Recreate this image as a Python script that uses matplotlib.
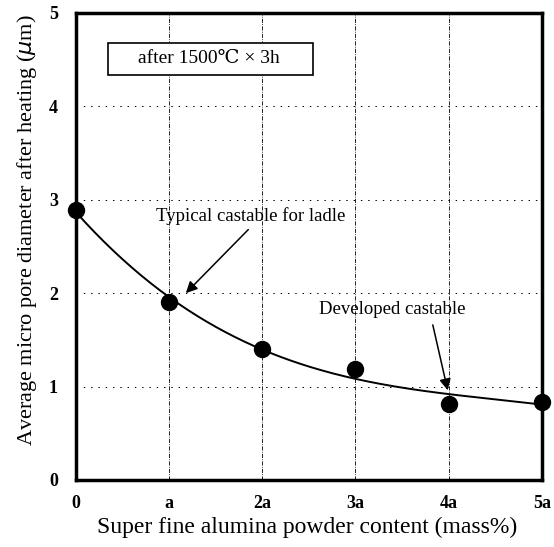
import numpy as np
import matplotlib.pyplot as plt
from matplotlib.patches import Rectangle

# data
x_labels = ['0', 'a', '2a', '3a', '4a', '5a']
content = [0, 1, 2, 3, 4, 5]
pore_diameter = [2.89, 1.90, 1.40, 1.19, 0.81, 0.84]
y_ticks = [0, 1, 2, 3, 4, 5]

plt.rcParams['font.family'] = ['Liberation Serif', 'DejaVu Serif']

fig = plt.figure(figsize=(5.54, 5.47), dpi=100)
ax = fig.add_axes([0.137, 0.1225, 0.841, 0.854])

# vertical and horizontal guide lines
for xv in content[1:-1]:
    ax.axvline(xv, color='k', lw=0.6, ls=(0, (5, 1.5, 1, 1.5)), zorder=1)
for yv in y_ticks[1:-1]:
    ax.axhline(yv, color='k', lw=0.7, ls=(0, (1.5, 6)), zorder=1)

# trend curve
coef = np.polyfit(content, pore_diameter, 3)
xs = np.linspace(0, 5, 200)
ax.plot(xs, np.polyval(coef, xs), color='k', lw=1.4, zorder=2)

ax.plot(content, pore_diameter, 'o', color='k', ms=11.5, clip_on=False, zorder=3)

ax.set_xlim(0, 5)
ax.set_ylim(0, 5)
ax.set_xticks(content)
ax.set_xticklabels(x_labels, fontweight='bold', fontsize=13)
ax.set_yticks(y_ticks)
ax.set_yticklabels([str(v) for v in y_ticks], fontweight='bold', fontsize=13)
ax.tick_params(length=0)
ax.tick_params(axis='y', pad=13)
ax.tick_params(axis='x', pad=11)
for s in ax.spines.values():
    s.set_linewidth(2.5)

ax.set_xlabel('Super fine alumina powder content (mass%)', fontsize=17)
ax.xaxis.set_label_coords(0.496, -0.078)
ax.set_ylabel(r'Average micro pore diameter after heating ($\mathit{\mu}$m)', fontsize=16)
ax.yaxis.set_label_coords(-0.08, 0.535)

# condition box
ax.add_patch(Rectangle((0.343, 4.34), 2.2, 0.34, fc='white', ec='k', lw=1.2, zorder=4))
ax.text(1.43, 4.51, 'after 1500\u2103 \u00d7 3h', ha='center', va='center',
        fontsize=14, zorder=5)

arrow = dict(arrowstyle='-|>', color='k', lw=1.1, mutation_scale=17, shrinkA=0, shrinkB=0)
ax.text(1.88, 2.82, 'Typical castable for ladle', fontsize=13.5, ha='center', va='center')
ax.annotate('', xy=(1.18, 2.0), xytext=(1.85, 2.68), arrowprops=arrow)
ax.text(3.39, 1.82, 'Developed castable', fontsize=13.5, ha='center', va='center')
ax.annotate('', xy=(3.99, 0.96), xytext=(3.83, 1.66), arrowprops=arrow)

fig.savefig('out.png', dpi=100)
